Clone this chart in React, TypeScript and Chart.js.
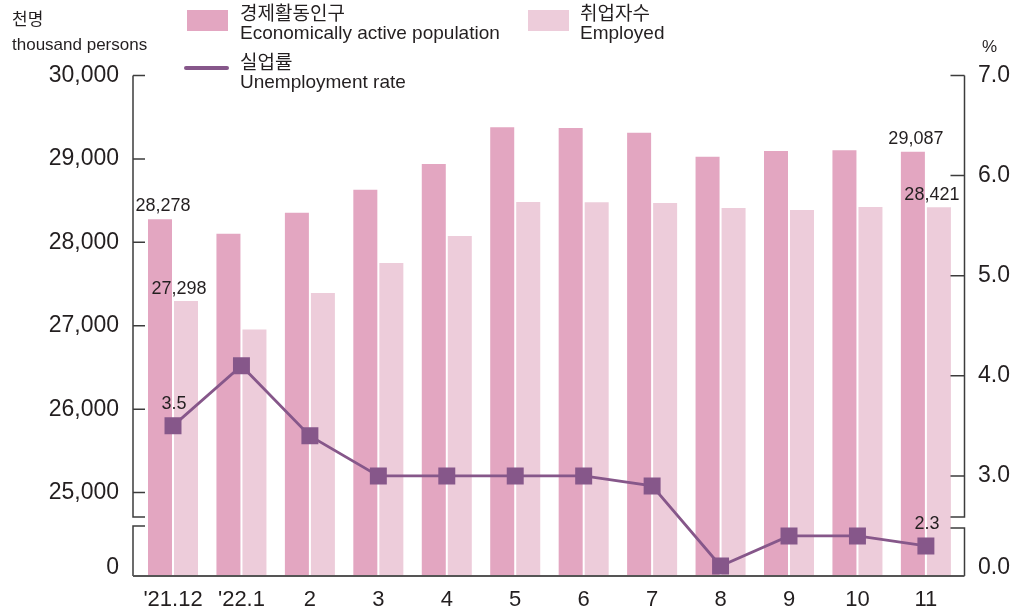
import React, { useEffect, useRef } from 'react';
import { Chart, registerables } from 'chart.js';

Chart.register(...registerables);

// ---- data ----
const categories = ["'21.12", "'22.1", '2', '3', '4', '5', '6', '7', '8', '9', '10', '11'];
const econActive = [28278, 28104, 28355, 28630, 28940, 29380, 29370, 29315, 29025, 29095, 29105, 29087];
const employed = [27298, 26954, 27392, 27752, 28076, 28483, 28480, 28473, 28411, 28389, 28423, 28421];
const unemploymentRate = [3.5, 4.1, 3.4, 3.0, 3.0, 3.0, 3.0, 2.9, 2.1, 2.4, 2.4, 2.3];
const leftTicks = [25000, 26000, 27000, 28000, 29000, 30000];
const rightTicks = [3, 4, 5, 6, 7];
const leftBreakTick = 24096; // where the "0" label of the broken axis sits
const rightBreakTick = 2.08; // where the "0.0" label of the broken axis sits
const labeledIndices = [0, 11];

// ---- style ----
const FONT = "'Liberation Sans', 'Noto Sans CJK KR', Arial, sans-serif";
const ECON = '#E3A6C1';
const EMP = '#EDCCDA';
const LINE = '#86578A';
const TEXT = '#231F20';
const AXIS = '#3C3C3C';

const decorPlugin = {
  id: 'decor',
  afterDraw(chart: any) {
    const ctx = chart.ctx as CanvasRenderingContext2D;
    const { left, right, top, bottom } = chart.chartArea;
    const yL = chart.scales.y;
    const yR = chart.scales.y2;
    const tickLen = 12;
    ctx.save();
    ctx.strokeStyle = AXIS;
    ctx.lineWidth = 1.5;
    // left axis with break
    const lBrkTop = bottom - 59;
    const lBrkBot = bottom - 50;
    ctx.beginPath();
    ctx.moveTo(left, top);
    ctx.lineTo(left, lBrkTop);
    ctx.lineTo(left + tickLen, lBrkTop);
    ctx.moveTo(left + tickLen, lBrkBot);
    ctx.lineTo(left, lBrkBot);
    ctx.lineTo(left, bottom);
    leftTicks.forEach((v) => {
      const y = yL.getPixelForValue(v);
      ctx.moveTo(left, y);
      ctx.lineTo(left + tickLen, y);
    });
    // right axis with break
    const rBrkTop = bottom - 59;
    const rBrkBot = bottom - 48;
    const rTick = 14;
    ctx.moveTo(right, top);
    ctx.lineTo(right, rBrkTop);
    ctx.lineTo(right - rTick, rBrkTop);
    ctx.moveTo(right - rTick, rBrkBot);
    ctx.lineTo(right, rBrkBot);
    ctx.lineTo(right, bottom);
    rightTicks.forEach((v) => {
      const y = yR.getPixelForValue(v);
      ctx.moveTo(right, y);
      ctx.lineTo(right - rTick, y);
    });
    ctx.stroke();
    // baseline
    ctx.lineWidth = 2.2;
    ctx.strokeStyle = '#555555';
    ctx.beginPath();
    ctx.moveTo(left, bottom);
    ctx.lineTo(right, bottom);
    ctx.stroke();

    // data labels
    ctx.fillStyle = TEXT;
    ctx.font = `18px ${FONT}`;
    ctx.textAlign = 'center';
    ctx.textBaseline = 'alphabetic';
    const mEcon = chart.getDatasetMeta(0);
    const mEmp = chart.getDatasetMeta(1);
    const mLine = chart.getDatasetMeta(2);
    labeledIndices.forEach((i) => {
      const b1 = mEcon.data[i];
      ctx.fillText(econActive[i].toLocaleString('en-US'), b1.x + 3, b1.y - 8);
      const b2 = mEmp.data[i];
      ctx.fillText(employed[i].toLocaleString('en-US'), b2.x - 7, b2.y - 7);
      const p = mLine.data[i];
      ctx.fillText(unemploymentRate[i].toFixed(1), p.x + 1, p.y - 17);
    });
    ctx.restore();
  },
};

// text placed in page coordinates (x = left edge, cy = visual centre)
function Txt(props: { x: number; cy: number; size: number; children: React.ReactNode }) {
  return (
    <div
      style={{
        position: 'fixed',
        left: props.x,
        top: props.cy - 10,
        lineHeight: '20px',
        fontSize: props.size,
        fontFamily: FONT,
        whiteSpace: 'nowrap',
        color: TEXT,
      }}
    >
      {props.children}
    </div>
  );
}

function Box(props: { x: number; y: number; w: number; h: number; bg: string; r?: number }) {
  return (
    <div
      style={{
        position: 'fixed',
        left: props.x,
        top: props.y,
        width: props.w,
        height: props.h,
        background: props.bg,
        borderRadius: props.r || 0,
      }}
    />
  );
}

export default function App() {
  const ref = useRef<HTMLCanvasElement>(null);

  useEffect(() => {
    if (!ref.current) return;
    Chart.defaults.font.family = FONT;
    const chart = new Chart(ref.current, {
      type: 'bar',
      data: {
        datasets: [
          {
            type: 'bar',
            label: 'Economically active population',
            data: econActive.map((v, i) => ({ x: i, y: v })),
            backgroundColor: ECON,
            yAxisID: 'y',
            order: 2,
            categoryPercentage: 0.76,
            barPercentage: 0.923,
          },
          {
            type: 'bar',
            label: 'Employed',
            data: employed.map((v, i) => ({ x: i, y: v })),
            backgroundColor: EMP,
            yAxisID: 'y',
            order: 2,
            categoryPercentage: 0.76,
            barPercentage: 0.923,
          },
          {
            type: 'line',
            label: 'Unemployment rate',
            data: unemploymentRate.map((v, i) => ({ x: i, y: v })),
            yAxisID: 'y2',
            borderColor: LINE,
            borderWidth: 2.8,
            pointStyle: 'rect',
            pointRadius: 12,
            pointBackgroundColor: LINE,
            pointBorderColor: LINE,
            pointBorderWidth: 0,
            tension: 0,
            order: 0,
          },
        ] as any,
      },
      options: {
        responsive: false,
        animation: false,
        layout: { padding: { top: 67.5, left: 0, right: 0, bottom: 0 } },
        plugins: { legend: { display: false }, tooltip: { enabled: false } },
        scales: {
          x: {
            type: 'linear',
            offset: false,
            min: -0.5845,
            max: 11.564,
            grid: { display: false, drawTicks: false, offset: false },
            border: { display: false },
            afterBuildTicks: (s: any) => {
              s.ticks = categories.map((_, i) => ({ value: i }));
            },
            afterFit: (s: any) => {
              s.height = 32;
            },
            ticks: {
              padding: 11,
              color: TEXT,
              font: { family: FONT, size: 22 },
              maxRotation: 0,
              autoSkip: false,
              callback: (v: any) => categories[Math.round(Number(v))] ?? '',
            },
          },
          y: {
            type: 'linear',
            position: 'left',
            min: 24000,
            max: 30000,
            grid: { display: false, drawTicks: false },
            border: { display: false },
            afterBuildTicks: (s: any) => {
              s.ticks = [{ value: leftBreakTick }, ...leftTicks.map((v) => ({ value: v }))];
            },
            afterFit: (s: any) => {
              s.width = 125;
            },
            ticks: {
              padding: 14,
              color: TEXT,
              font: { family: FONT, size: 23 },
              callback: (v: any) => (Number(v) < 25000 ? '0' : Number(v).toLocaleString('en-US')),
            },
          },
          y2: {
            type: 'linear',
            position: 'right',
            min: 2,
            max: 7,
            grid: { display: false, drawTicks: false },
            border: { display: false },
            afterBuildTicks: (s: any) => {
              s.ticks = [{ value: rightBreakTick }, ...rightTicks.map((v) => ({ value: v }))];
            },
            afterFit: (s: any) => {
              s.width = 45.5;
            },
            ticks: {
              padding: 13.5,
              color: TEXT,
              font: { family: FONT, size: 23 },
              callback: (v: any) => (Number(v) < 3 ? '0.0' : Number(v).toFixed(1)),
            },
          },
        },
      } as any,
      plugins: [decorPlugin],
    });
    return () => chart.destroy();
  }, []);

  return (
    <div style={{ position: 'relative', width: 1002, height: 600, fontFamily: FONT }}>
      <canvas ref={ref} width={1002} height={600} style={{ display: 'block', width: 1002, height: 600 }} />
      {/* unit labels */}
      <Txt x={12} cy={20} size={17}>천명</Txt>
      <Txt x={12} cy={45} size={17}>thousand persons</Txt>
      <Txt x={982} cy={47} size={17}>%</Txt>
      {/* legend */}
      <Box x={187} y={10} w={41} h={21} bg={ECON} />
      <Txt x={240} cy={14} size={19}>경제활동인구</Txt>
      <Txt x={240} cy={33} size={19}>Economically active population</Txt>
      <Box x={184} y={66} w={45} h={4} bg={LINE} r={2} />
      <Txt x={240} cy={63} size={19}>실업률</Txt>
      <Txt x={240} cy={82} size={19}>Unemployment rate</Txt>
      <Box x={528} y={10} w={41} h={21} bg={EMP} />
      <Txt x={580} cy={14} size={19}>취업자수</Txt>
      <Txt x={580} cy={33} size={19}>Employed</Txt>
    </div>
  );
}
